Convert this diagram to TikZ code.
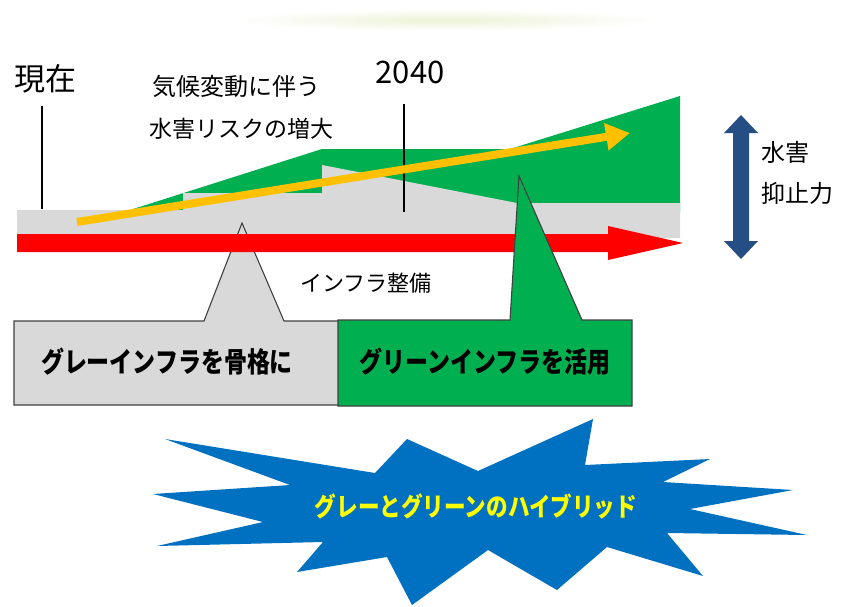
\documentclass[tikz,border=0pt]{standalone}
\usepackage{fontspec}
\newfontfamily\jp{Noto Sans CJK JP}
\usetikzlibrary{arrows.meta}
\definecolor{ggreen}{RGB}{0,176,80}
\definecolor{ggray}{RGB}{217,217,217}
\definecolor{gred}{RGB}{255,0,0}
\definecolor{gyellow}{RGB}{255,192,0}
\definecolor{gblue}{RGB}{0,112,192}
\definecolor{dblue}{RGB}{36,78,132}
\definecolor{outl}{RGB}{64,64,64}
\tikzset{
  lbl/.style={inner sep=0pt, font=\jp\fontsize{#1}{#1}\selectfont, text=black},
  boxtxt/.style={inner sep=0pt, font=\jp\bfseries\fontsize{28}{28}\selectfont, text=black, xscale=0.82},
  callout/.style={draw=outl, line width=1.1pt, line join=miter},
  tick/.style={draw=black, line width=1.3pt}
}
\begin{document}
\begin{tikzpicture}[x=1pt,y=-1pt]
\useasboundingbox (0,0) rectangle (842,606);
% faint top shadow
\shade[inner color={rgb,255:red,236;green,242;blue,214}, outer color=white] (445,20) ellipse [x radius=215, y radius=11];
% green risk area
\fill[ggreen] (130,210) -- (322,149) -- (510,149) -- (680,96) -- (680,212) -- (130,212) -- cycle;
% gray infrastructure band
\fill[ggray] (17,210) -- (183,210) -- (183,193) -- (322,193) -- (322,165) -- (517,203) -- (680,203) -- (680,238) -- (17,238) -- cycle;
% ticks
\coordinate (nowtop) at (42,106);
\coordinate (nowbot) at (42,209);
\coordinate (yrtop) at (404,104);
\coordinate (yrbot) at (404,212);
\draw[tick] (nowtop) -- (nowbot);
\draw[tick] (yrtop) -- (yrbot);
% gray callout (behind red arrow)
\path[callout, fill=ggray] (14,321) -- (204,321) -- (242,223) -- (284,321) -- (340,321) -- (340,405) -- (14,405) -- cycle;
% red arrow
\fill[gred] (17,234) -- (608,234) -- (608,226) -- (683,243) -- (608,260) -- (608,252) -- (17,252) -- cycle;
% yellow arrow
\coordinate (ys) at (77,222);
\coordinate (ye) at (630,133);
\draw[gyellow, line width=8pt, -{Triangle[length=24pt,width=26pt]}] (ys) -- (ye);
% green callout
\path[callout, fill=ggreen] (338,320) -- (510,320) -- (519,176) -- (582,320) -- (632,320) -- (632,406) -- (338,406) -- cycle;
% double arrow
\fill[dblue] (741,115) -- (758,133) -- (749,133) -- (749,241) -- (758,241) -- (741,259) -- (724,241) -- (733,241) -- (733,133) -- (724,133) -- cycle;
% starburst
\fill[gblue] (703,576) -- (607,547) -- (557,590) -- (488,550) -- (412,605) -- (387,557) -- (297,572) -- (323,542) -- (157,546) -- (263,522) -- (153,494) -- (290,485) -- (165,439) -- (375,473) -- (407,439) -- (478,471) -- (593,419) -- (585,465) -- (710,459) -- (663,482) -- (793,490) -- (690,509) -- (807,535) -- (667,533) -- cycle;
% texts
\node[lbl=31] (now) at (45,79) {現在};
\node[lbl=31] (yr) at (410,72) {2040};
\node[lbl=24] (risk1) at (236,86) {気候変動に伴う};
\node[lbl=23] (risk2) at (241,129) {水害リスクの増大};
\node[lbl=22] (infra) at (366,283) {インフラ整備};
\node[lbl=24, anchor=west] (sup1) at (761,152) {水害};
\node[lbl=24, anchor=west] (sup2) at (761,193) {抑止力};
\node[boxtxt] (graytxt) at (167,362) {グレーインフラを骨格に};
\node[boxtxt] (greentxt) at (485,362) {グリーンインフラを活用};
\node[inner sep=0pt, font=\jp\bfseries\fontsize{26}{26}\selectfont, text={rgb,255:red,255;green,255;blue,0}, xscale=0.83] (hybrid) at (476,506) {グレーとグリーンのハイブリッド};
\end{tikzpicture}
\end{document}
